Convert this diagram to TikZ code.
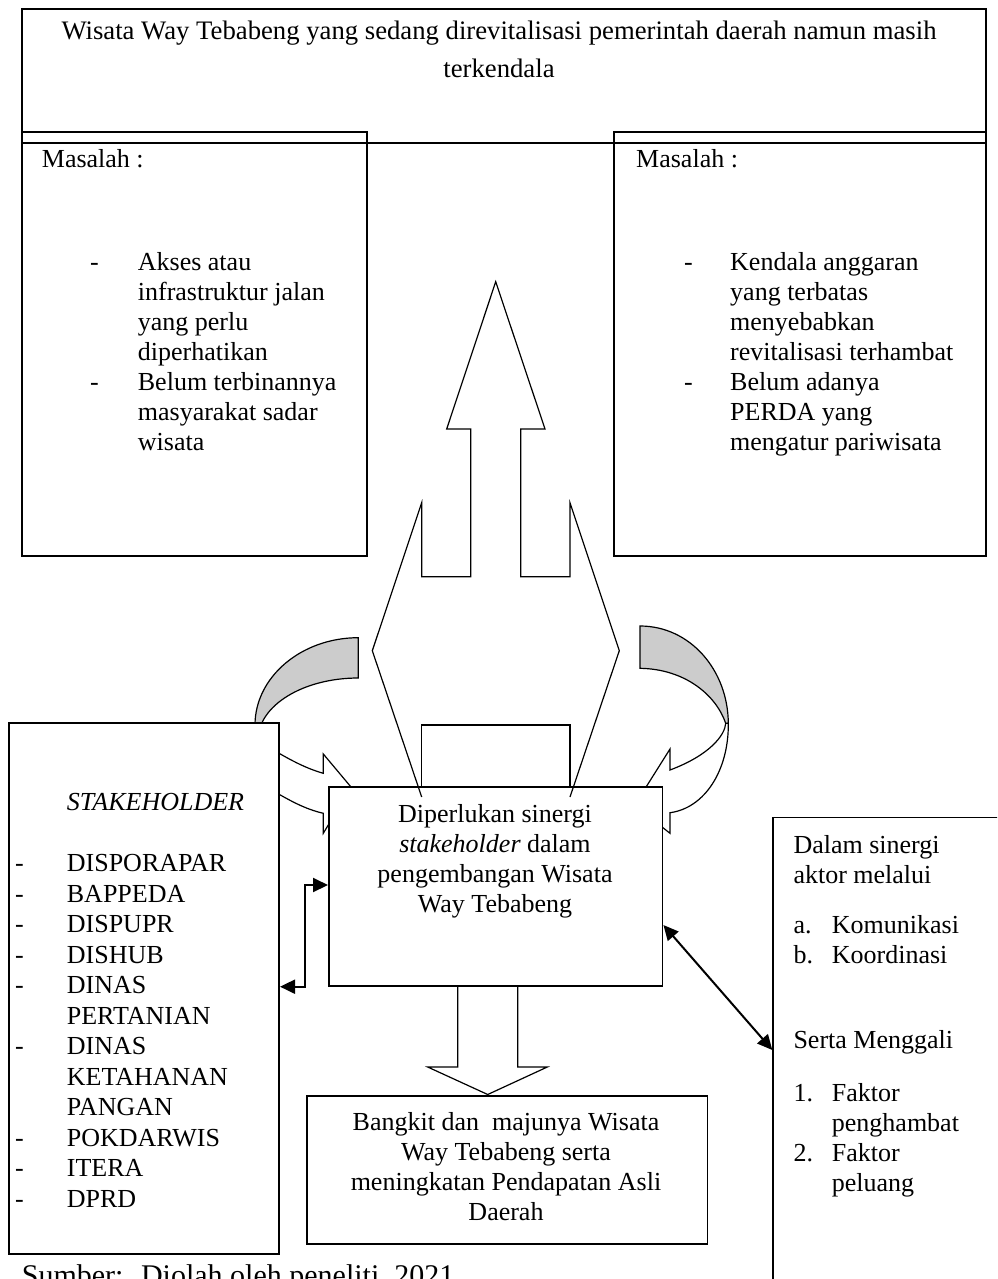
\documentclass[tikz,border=0pt]{standalone}
\usepackage{fontspec}
\setmainfont{Liberation Serif}
\usetikzlibrary{arrows.meta}
\newcommand{\txtlines}[5]{%
  \foreach \tline [count=\ti from 0] in {#5} {\node[txt,anchor=base west] (#1\ti) at ({#2},{#3+\ti*#4}) {\tline};}}
\begin{document}
\begin{tikzpicture}[x=1pt,y=-1pt,
  box/.style={draw=black,line width=1.7pt,fill=white,inner sep=0pt,anchor=north west},
  openbox/.style={draw=black,line width=1.7pt,inner sep=0pt,anchor=north west},
  shapeline/.style={draw=black,line width=1.2pt,line join=miter},
  txt/.style={inner sep=0pt,font=\fontsize{26}{30}\selectfont},
  conn/.style={line width=2pt,{Triangle[length=15pt,width=14pt]}-{Triangle[length=15pt,width=14pt]}},
  ]
\useasboundingbox (0,0) rectangle (997,1279);
\clip (0,0) rectangle (997,1279);
\fill[white] (0,0) rectangle (997,1279);

% problem boxes and top box
\node[box,minimum width=345pt,minimum height=424pt] (ls) at (21,131) {};
\node[box,minimum width=372pt,minimum height=424pt] (rs) at (613,131) {};
\node[openbox,minimum width=964pt,minimum height=134pt] (top) at (21,8) {};

% curved arrows (left)
\filldraw[fill=gray!40,shapeline] (358.3,637.7) .. controls (301.4,637.7) and (255,677) .. (255,725)
  -- (258,740) .. controls (258,705.8) and (302.8,678) .. (358.3,678) -- cycle;
\draw[shapeline] (265,745) .. controls (290,760) and (305,768) .. (323.3,773.3) -- (323.3,754) -- (351,787)
  -- (323.3,833.3) -- (323.3,813.3) .. controls (305,809) and (290,801) .. (265,786);
% curved arrows (right)
\filldraw[fill=gray!40,shapeline] (640,626) .. controls (690,626) and (728,670) .. (728.3,723.3)
  -- (725.7,723.3) .. controls (716,695) and (685,669) .. (640,668.3) -- cycle;
\draw[shapeline] (728.3,723.3) .. controls (728.8,770) and (705,808) .. (670,812.7) -- (670,833.3)
  -- (634.6,805.2) -- (670,749) -- (670,770) .. controls (710,755) and (725,735) .. (725.7,723.3);

% stakeholder and centre boxes
\node[box,minimum width=270.3pt,minimum height=531pt] (stk) at (8,722) {};
\node[box,minimum width=333.7pt,minimum height=199pt] (cen) at (328,786) {};

% big up arrow
\draw[shapeline] (421.7,797) -- (372.3,650.7) -- (421.7,502.7) -- (421.7,576.7) -- (470.7,576.7)
  -- (470.7,429) -- (446.7,429) -- (495.7,281.7) -- (545,429) -- (520.7,429) -- (520.7,576.7)
  -- (570,576.7) -- (570,502.7) -- (619.3,650.7) -- (570,797);
\draw[shapeline] (421.7,786) -- (421.7,725) -- (570,725) -- (570,786);

% down arrow and result box
\draw[shapeline] (457.7,985) -- (457.7,1067) -- (427.7,1067) -- (487.7,1094.5) -- (547.3,1067)
  -- (517.7,1067) -- (517.7,985);
\node[box,minimum width=400.7pt,minimum height=148.3pt] (bot) at (306,1095) {};
\node[box,minimum width=260pt,minimum height=500pt] (rbox) at (772.3,816.7) {};

% connectors
\coordinate (e1) at (0,986.7);
\coordinate (e2) at (0,885);
\coordinate (e3) at (0,925);
\coordinate (e4) at (0,1050);
\draw[conn] (stk.east |- e1) -- ++(25,0) |- (cen.west |- e2);
\draw[conn] (cen.east |- e3) -- (rbox.west |- e4);

% texts
\node[txt,anchor=base,font=\fontsize{26.7}{30}\selectfont] (t1) at (499,40) {Wisata Way Tebabeng yang sedang direvitalisasi pemerintah daerah namun masih};
\node[txt,anchor=base,font=\fontsize{26.7}{30}\selectfont] (t2) at (499,78) {terkendala};

\node[txt,anchor=base west] (lm) at (41.7,167) {Masalah :};
\node[txt,anchor=base west] (ld1) at (90,270) {-};
\node[txt,anchor=base west] (ld2) at (90,390) {-};
\txtlines{la}{137.7}{270}{30}{Akses atau,infrastruktur jalan,yang perlu,diperhatikan,Belum terbinannya,masyarakat sadar,wisata}

\node[txt,anchor=base west] (rm) at (636,167) {Masalah :};
\node[txt,anchor=base west] (rd1) at (684,270) {-};
\node[txt,anchor=base west] (rd2) at (684,390) {-};
\txtlines{ra}{730}{270}{30}{Kendala anggaran,yang terbatas,menyebabkan,revitalisasi terhambat,Belum adanya,PERDA yang,mengatur pariwisata}

\node[txt,anchor=base west] (sh) at (66.7,810.5) {\textit{STAKEHOLDER}};
\txtlines{sl}{66.7}{871.5}{30.5}{DISPORAPAR,BAPPEDA,DISPUPR,DISHUB,DINAS,PERTANIAN,DINAS,KETAHANAN,PANGAN,POKDARWIS,ITERA,DPRD}
\foreach \k in {0,1,2,3,4,6,9,10,11} {\node[txt,anchor=base west] (sd\k) at (15,{871.5+\k*30.5}) {-};}

\node[txt,anchor=base] (c1) at (495,822) {Diperlukan sinergi};
\node[txt,anchor=base] (c2) at (495,852) {\textit{stakeholder} dalam};
\node[txt,anchor=base] (c3) at (495,882) {pengembangan Wisata};
\node[txt,anchor=base] (c4) at (495,912) {Way Tebabeng};

\node[txt,anchor=base] (b1) at (506,1130) {Bangkit dan~ majunya Wisata};
\node[txt,anchor=base] (b2) at (506,1160) {Way Tebabeng serta};
\node[txt,anchor=base] (b3) at (506,1190) {meningkatan Pendapatan Asli};
\node[txt,anchor=base] (b4) at (506,1220) {Daerah};

\node[txt,anchor=base west] (r1) at (793.3,853) {Dalam sinergi};
\node[txt,anchor=base west] (r2) at (793.3,883) {aktor melalui};
\node[txt,anchor=base west] (r3a) at (793.3,933) {a.};
\node[txt,anchor=base west] (r3b) at (831.7,933) {Komunikasi};
\node[txt,anchor=base west] (r4a) at (793.3,963) {b.};
\node[txt,anchor=base west] (r4b) at (831.7,963) {Koordinasi};
\node[txt,anchor=base west] (r5) at (793.3,1048) {Serta Menggali};
\node[txt,anchor=base west] (r6a) at (793.3,1101) {1.};
\node[txt,anchor=base west] (r6b) at (831.7,1101) {Faktor};
\node[txt,anchor=base west] (r7) at (831.7,1131) {penghambat};
\node[txt,anchor=base west] (r8a) at (793.3,1161) {2.};
\node[txt,anchor=base west] (r8b) at (831.7,1161) {Faktor};
\node[txt,anchor=base west] (r9) at (831.7,1191) {peluang};

\node[inner sep=0pt,font=\fontsize{30}{36}\selectfont,anchor=base west] (src) at (21.7,1285) {Sumber:~ Diolah oleh peneliti, 2021};
\end{tikzpicture}
\end{document}
